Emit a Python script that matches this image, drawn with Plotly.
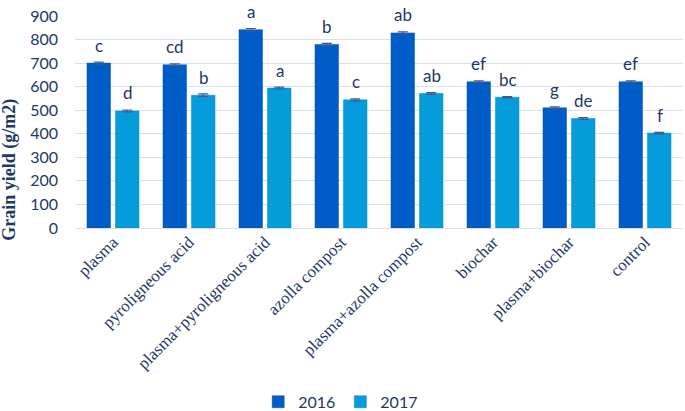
import plotly.graph_objects as go

categories = ["plasma", "pyroligneous acid", "plasma+pyroligneous acid", "azolla compost",
              "plasma+azolla compost", "biochar", "plasma+biochar", "control"]
y2016 = [700, 693, 842, 779, 828, 621, 510, 621]
y2017 = [497, 564, 594, 544, 571, 555, 465, 403]
err2016 = [4, 4, 5, 5, 5, 4, 4, 4]
err2017 = [4, 5, 4, 4, 4, 3, 4, 3]
letters2016 = ["c", "cd", "a", "b", "ab", "ef", "g", "ef"]
letters2017 = ["d", "b", "a", "c", "ab", "bc", "de", "f"]
yticks = [0, 100, 200, 300, 400, 500, 600, 700, 800, 900]

navy = "#1F3864"
sans = "Lato, sans-serif"
serif = "Liberation Serif, Times New Roman, serif"

fig = go.Figure()
fig.add_trace(go.Bar(
    x=categories, y=y2016, name="2016",
    marker=dict(color="#005DC8", line=dict(color="#0050A8", width=0.5)),
    error_y=dict(type="data", array=err2016, color="#3A5A95", thickness=1.2, width=5),
))
fig.add_trace(go.Bar(
    x=categories, y=y2017, name="2017",
    marker=dict(color="#069CDC", line=dict(color="#0088C0", width=0.5)),
    error_y=dict(type="data", array=err2017, color="#3A5A95", thickness=1.2, width=5),
))

annotations = []
for cat, v, t in zip(categories, y2016, letters2016):
    annotations.append(dict(x=cat, y=v, xref="x", yref="y", text=t, showarrow=False,
                            xshift=-14.5, yshift=18, yanchor="middle",
                            font=dict(family=sans, size=17, color=navy)))
for cat, v, t in zip(categories, y2017, letters2017):
    annotations.append(dict(x=cat, y=v, xref="x", yref="y", text=t, showarrow=False,
                            xshift=14.5, yshift=18, yanchor="middle",
                            font=dict(family=sans, size=17, color=navy)))
annotations.append(dict(x=-0.107, y=0.274, xref="paper", yref="paper", textangle=-90,
                        text="<b>Grain yield (g/m2)</b>", showarrow=False,
                        xanchor="center", yanchor="middle",
                        font=dict(family=serif, size=18, color=navy)))

fig.update_layout(
    width=685, height=411,
    margin=dict(l=75, r=2, t=16, b=183, autoexpand=False),
    paper_bgcolor="white", plot_bgcolor="white",
    barmode="group", bargap=0.25, bargroupgap=0.175,
    showlegend=True,
    legend=dict(orientation="h", x=0.437, xanchor="center", y=-0.82, yanchor="middle",
                font=dict(family=sans, size=16, color=navy),
                itemwidth=30, traceorder="normal"),
    annotations=annotations,
    xaxis=dict(tickangle=-45, showgrid=False, showline=False, ticks="", automargin=False,
               tickfont=dict(family=serif, size=17, color=navy)),
    yaxis=dict(range=[0, 900], tickvals=yticks, showgrid=True, gridcolor="#D6E0F0", gridwidth=1,
               zeroline=True, zerolinecolor="#D6E0F0", zerolinewidth=1, automargin=False,
               showline=False, ticks="", ticklabelstandoff=16,
               tickfont=dict(family=sans, size=16, color=navy)),
)
fig.write_html("out.html", config={"displayModeBar": False},
               post_script="document.body.style.margin='0';document.body.style.overflow='hidden';")
